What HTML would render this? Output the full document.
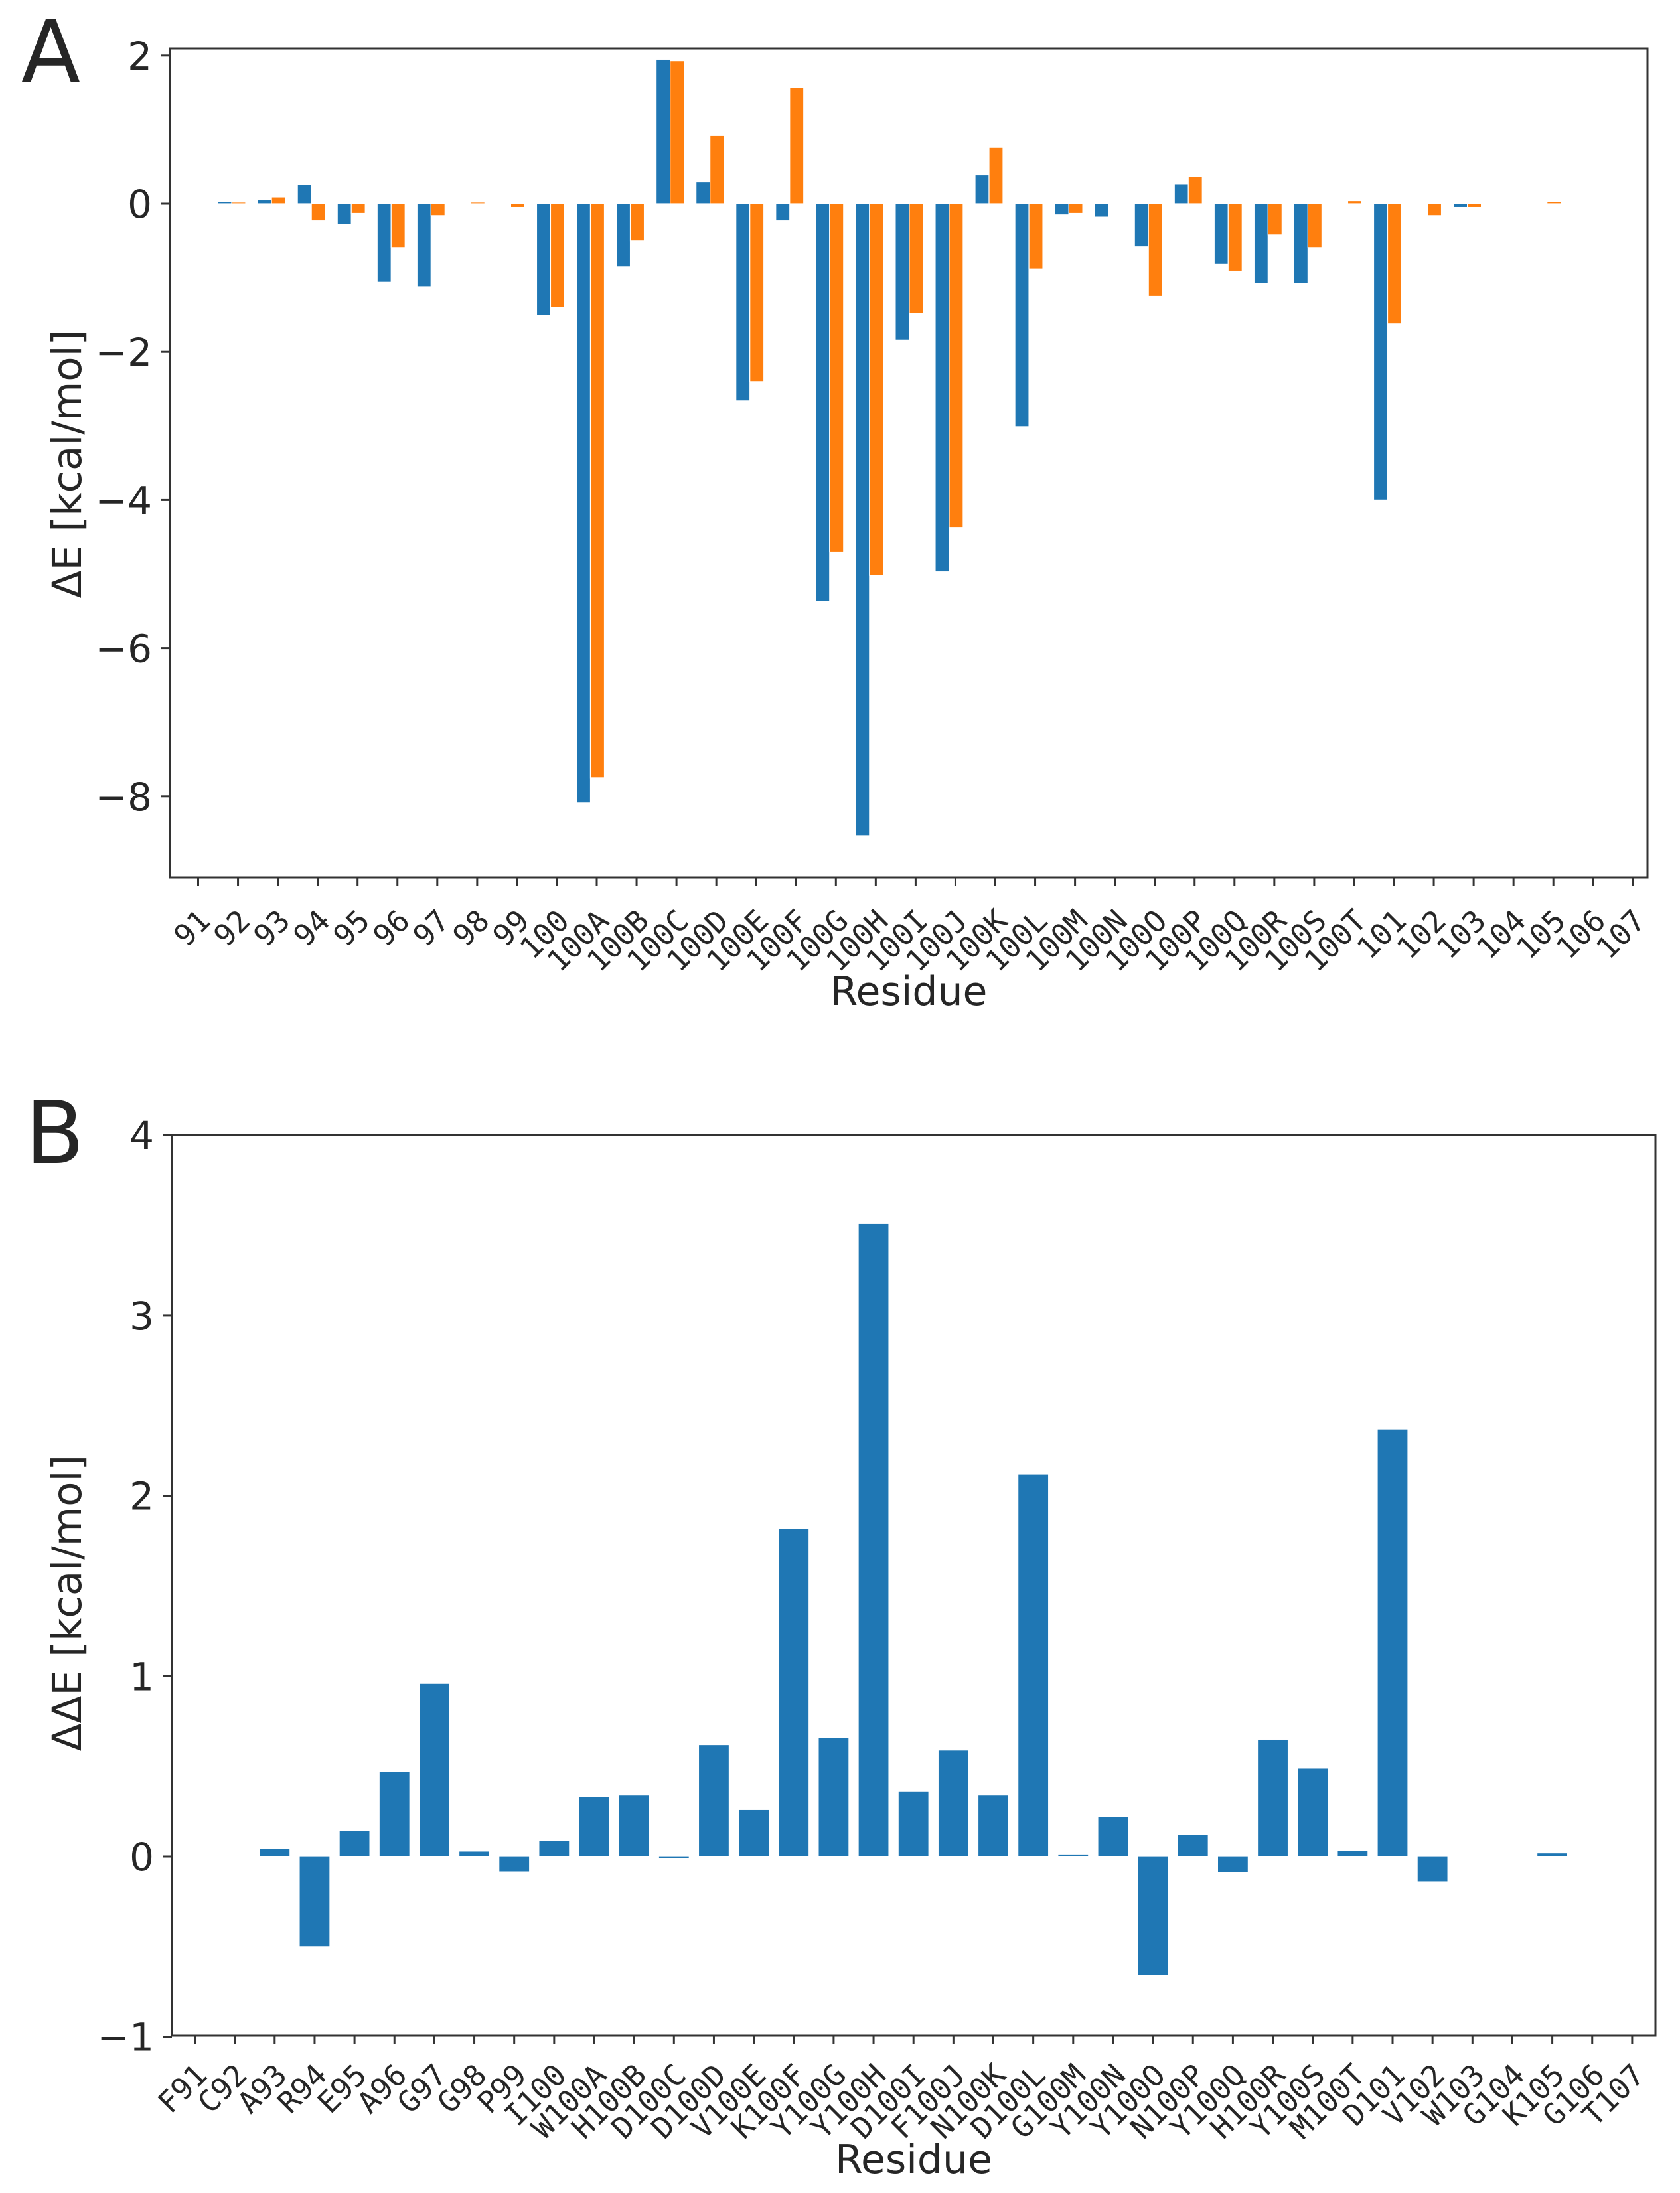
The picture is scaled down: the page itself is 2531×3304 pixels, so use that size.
<!DOCTYPE html>
<html><head><meta charset="utf-8">
<style>
html,body{margin:0;padding:0;background:#fff;}
svg{display:block;}
.tk{font-family:"DejaVu Sans","Liberation Sans",sans-serif;fill:#262626;}
.mono{font-family:"DejaVu Sans Mono","Liberation Mono",monospace;fill:#262626;}
</style></head>
<body>
<svg id="fig" width="2531" height="3304" viewBox="0 0 2531 3304" xmlns="http://www.w3.org/2000/svg">
<rect width="2531" height="3304" fill="#fff"/>
<g id="panelA"></g>
<g id="panelB"></g>
</svg>
<script>
const catsA = ["91","92","93","94","95","96","97","98","99","100","100A","100B","100C","100D","100E","100F","100G","100H","100I","100J","100K","100L","100M","100N","100O","100P","100Q","100R","100S","100T","101","102","103","104","105","106","107"];
const blueA = [0,0.03,0.05,0.26,-0.28,-1.06,-1.12,0,0.01,-1.51,-8.09,-0.85,1.95,0.30,-2.66,-0.23,-5.37,-8.53,-1.84,-4.97,0.39,-3.01,-0.15,-0.18,-0.58,0.27,-0.81,-1.08,-1.08,0,-4.0,-0.01,-0.05,0,0,0,0];
const orangeA = [0,0.02,0.09,-0.23,-0.13,-0.59,-0.16,0.02,-0.05,-1.40,-7.75,-0.50,1.93,0.92,-2.40,1.57,-4.70,-5.02,-1.48,-4.37,0.76,-0.88,-0.13,0.01,-1.25,0.37,-0.91,-0.42,-0.59,0.04,-1.62,-0.16,-0.05,0,0.03,0,0];
const ticksA = [2,0,-2,-4,-6,-8];
const catsB = ["F91","C92","A93","R94","E95","A96","G97","G98","P99","I100","W100A","H100B","D100C","D100D","V100E","K100F","Y100G","Y100H","D100I","F100J","N100K","D100L","G100M","Y100N","Y100O","N100P","Y100Q","H100R","Y100S","M100T","D101","V102","W103","G104","K105","G106","T107"];
const valsB = [0.005,0,0.045,-0.50,0.145,0.47,0.96,0.03,-0.085,0.09,0.33,0.34,-0.01,0.62,0.26,1.82,0.66,3.51,0.36,0.59,0.34,2.12,0.01,0.22,-0.66,0.12,-0.09,0.65,0.49,0.035,2.37,-0.14,0,0,0.02,0,0];
const ticksB = [4,3,2,1,0,-1];

const NS="http://www.w3.org/2000/svg";
function mk(tag,attrs,parent){const e=document.createElementNS(NS,tag);for(const k in attrs)e.setAttribute(k,attrs[k]);parent.appendChild(e);return e;}
function fmt(v){return v<0?"\u2212"+Math.abs(v):String(v);}

function panel(g,cfg){
  const {L,R,T,B,x0,dx,y0,unit}=cfg;
  const xs=i=>x0+dx*i;
  const ys=v=>y0-v*unit;
  cfg.series.forEach(s=>{
    s.vals.forEach((v,i)=>{
      const y1=ys(v),y2=ys(0);
      const r=mk('rect',{x:xs(i)+s.off,y:Math.min(y1,y2),width:s.w,height:Math.max(Math.abs(y2-y1),0.8),fill:s.color,stroke:'#fff','stroke-width':1.2},g);
      
      
    });
  });
  const fr=mk('rect',{x:L,y:T,width:R-L,height:B-T,fill:'none',stroke:'#333','stroke-width':3},g);
  
  
  cfg.yt.forEach(t=>{
    const y=ys(t);
    const ln=mk('line',{x1:L-13,x2:L,y1:y,y2:y,stroke:'#333','stroke-width':3},g);
    
    
    const tx=mk('text',{x:L-27,y:y+21,'text-anchor':'end','font-size':58,class:'tk'},g);
    tx.textContent=fmt(t);
    
    
  });
  cfg.cats.forEach((c,i)=>{
    const x=xs(i);
    const ln=mk('line',{x1:x,x2:x,y1:B,y2:B+13,stroke:'#333','stroke-width':3},g);
    
    
    const px=x+21, py=B+cfg.labOff;
    const tx=mk('text',{x:px,y:py,'text-anchor':'end','font-size':45,class:'mono',transform:`rotate(-45 ${px} ${py})`},g);
    tx.textContent=c;
    
    
  });
  const xl=mk('text',{x:(L+R)/2,y:cfg.xlY,'text-anchor':'middle','font-size':60,class:'tk'},g);
  xl.textContent='Residue';
  
  
  const yl=mk('text',{x:122,y:cfg.ylC,'text-anchor':'middle','font-size':61,class:'tk',transform:`rotate(-90 122 ${cfg.ylC})`},g);
  yl.textContent=cfg.ylab;
  
  
  const pl=mk('text',{x:cfg.pX,y:cfg.pY,'font-size':130,class:'tk'},g);
  pl.textContent=cfg.letter;
  
  
}

panel(document.getElementById('panelA'),{
  id:'panel-a',L:256,R:2482,T:73,B:1322,x0:298.5,dx:60.05,y0:307,unit:111.6,
  cats:catsA,yt:ticksA,labOff:68,xlY:1514,ylC:699,ylab:'\u0394E [kcal/mol]',letter:'A',pX:32,pY:123,
  series:[{name:'blue',vals:blueA,color:'#1f77b4',off:-30.5,w:21},{name:'orange',vals:orangeA,color:'#ff7f0e',off:-9.5,w:21}]
});
panel(document.getElementById('panelB'),{
  id:'panel-b',L:259,R:2494,T:1710,B:3067,x0:293.5,dx:60.15,y0:2797,unit:271.7,
  cats:catsB,yt:ticksB,labOff:62,xlY:3274,ylC:2415,ylab:'\u0394\u0394E [kcal/mol]',letter:'B',pX:38,pY:1752,
  series:[{name:'ddE',vals:valsB,color:'#1f77b4',off:-23,w:46}]
});
</script>
</body></html>
